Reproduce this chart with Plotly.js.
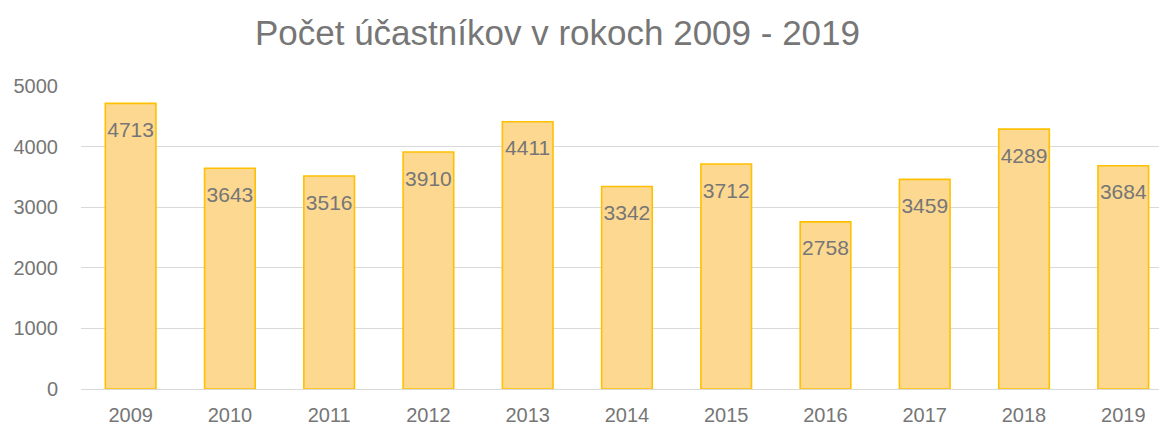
<!DOCTYPE html>
<html><head><meta charset="utf-8">
<script src="https://cdn.plot.ly/plotly-3.0.1.min.js"></script>
<style>html,body{margin:0;padding:0;background:#fff}</style>
</head><body>
<div id="chart" style="width:1159px;height:430px"></div>
<script>
const years = ["2009","2010","2011","2012","2013","2014","2015","2016","2017","2018","2019"];
const participants = [4713,3643,3516,3910,4411,3342,3712,2758,3459,4289,3684];
const titleText = "Počet účastníkov v rokoch 2009 - 2019";

const font = "Liberation Sans, Arial, sans-serif";
const grey = "#767676";

const bars = {
  type: "bar",
  x: years,
  y: participants,
  marker: {color: "#FDD891", line: {color: "#FFC000", width: 1.6}},
  hoverinfo: "x+y"
};

const labels = {
  type: "scatter",
  mode: "markers+text",
  x: years,
  y: participants,
  text: participants.map(String),
  textposition: "bottom center",
  marker: {size: 27, opacity: 0, color: "rgba(0,0,0,0)"},
  textfont: {family: font, size: 21, color: grey},
  hoverinfo: "skip",
  cliponaxis: false
};

const layout = {
  width: 1159, height: 430,
  margin: {l: 81, r: 0, t: 86, b: 41},
  paper_bgcolor: "#fff", plot_bgcolor: "#fff",
  title: {text: titleText, x: 0.481, xref: "container", xanchor: "center",
          y: 0.925, yref: "container", yanchor: "middle",
          font: {family: font, size: 35, color: grey}},
  bargap: 0.49,
  showlegend: false,
  xaxis: {type: "category", range: [-0.5, 10.36], showgrid: false, zeroline: false,
          showline: false, ticks: "", ticklabelstandoff: 12,
          tickfont: {family: font, size: 20, color: grey}},
  yaxis: {range: [0, 5000], tickvals: [0,1000,2000,3000,4000,5000],
          showgrid: true, gridcolor: "#d9d9d9", gridwidth: 1,
          zeroline: true, zerolinecolor: "#d9d9d9", zerolinewidth: 1,
          showline: false, ticks: "", ticklabelstandoff: 22,
          tickfont: {family: font, size: 20, color: grey}}
};

Plotly.newPlot("chart", [bars, labels], layout, {displayModeBar: false, staticPlot: true});
</script>
</body></html>
